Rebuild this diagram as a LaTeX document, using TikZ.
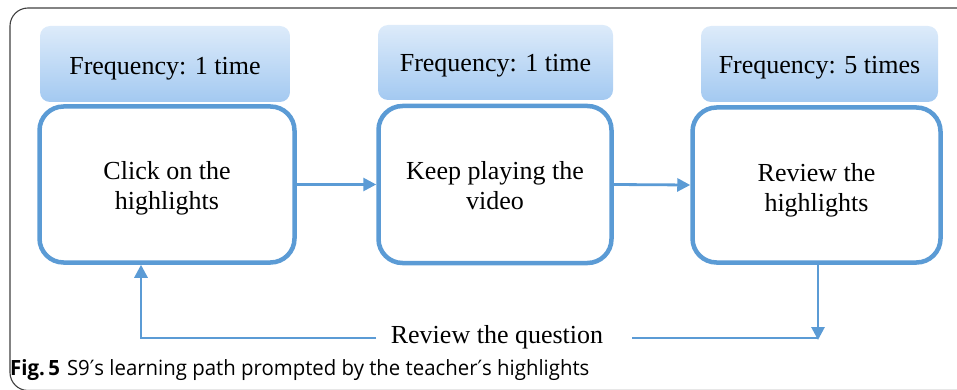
\documentclass[tikz,border=0pt]{standalone}
\usepackage{fontspec}
\setmainfont{Liberation Serif}
\newfontfamily\capfont[FakeStretch=0.97]{Open Sans}
\newfontfamily\primefont[FakeStretch=0.97]{DejaVu Sans}
\usetikzlibrary{arrows.meta}
\definecolor{bluestroke}{HTML}{5B9BD5}
\definecolor{hdtop}{HTML}{DDEBFA}
\definecolor{hdbot}{HTML}{A3C9F1}
\definecolor{framegray}{HTML}{404040}
\newcommand{\prm}{{\primefont ′}}
\begin{document}
\begin{tikzpicture}[x=1pt,y=-1pt,
  header/.style={rounded corners=10pt,top color=hdtop,bottom color=hdbot,draw=none,inner sep=0pt},
  mainbox/.style={rounded corners=24pt,draw=bluestroke,line width=4.5pt,fill=white,inner sep=0pt},
  boxtext/.style={font=\fontsize{26}{30}\selectfont,align=center,inner sep=0pt},
  conn/.style={draw=bluestroke,line width=2.8pt,-{Triangle[length=13pt,width=13pt]}},
  plainline/.style={draw=bluestroke,line width=2.8pt}]
\useasboundingbox (0,0) rectangle (957,390);
% outer frame
\draw[framegray,line width=1.1pt,rounded corners=18pt] (980,8) -- (10,8) -- (10,390.5) -- (980,390.5);
% headers
\node[header,minimum width=250pt,minimum height=76pt] (h1) at (165,64) {};
\node[header,minimum width=235pt,minimum height=75pt] (h2) at (495.5,62.5) {};
\node[header,minimum width=237pt,minimum height=76pt] (h3) at (819.5,64) {};
\node[boxtext] (f1) at (165,68.5) {Frequency: 1 time};
\node[boxtext] (f2) at (495.5,66) {Frequency: 1 time};
\node[boxtext] (f3) at (819.5,68) {Frequency: 5 times};
% main boxes
\node[mainbox,minimum width=255pt,minimum height=156pt] (b1) at (167,184.5) {};
\node[mainbox,minimum width=233pt,minimum height=157pt] (b2) at (495,184.5) {};
\node[mainbox,minimum width=248pt,minimum height=155pt] (b3) at (816.5,185) {};
\node[boxtext] (t1) at (167,188.5) {Click on the\\highlights};
\node[boxtext] (t2) at (495,186) {Keep playing the\\video};
\node[boxtext] (t3) at (816.5,190) {Review the\\highlights};
% connectors
\draw[conn] (b1.east) -- (b2.west);
\draw[conn] (b2.east) -- (b3.west);
% bottom loop
\node[font=\fontsize{26}{30}\selectfont,inner sep=0pt] (q) at (497,337) {Review the question};
\coordinate (cl) at (141,338);
\coordinate (cr) at (818,340);
\coordinate (ql) at (376,338);
\coordinate (qr) at (632,338);
\draw[plainline] (qr) -- (cr |- qr);
\draw[conn] (b3.south -| cr) -- (cr);
\draw[conn] (ql) -- (cl) -- (cl |- b1.south);
% caption
\node[anchor=base west,inner sep=0pt,font=\capfont\fontsize{21}{24}\selectfont] (cap) at (10,375)
  {\textbf{Fig.\,5}\hspace{7pt}S9\prm s learning path prompted by the teacher\prm s highlights};
\end{tikzpicture}
\end{document}
